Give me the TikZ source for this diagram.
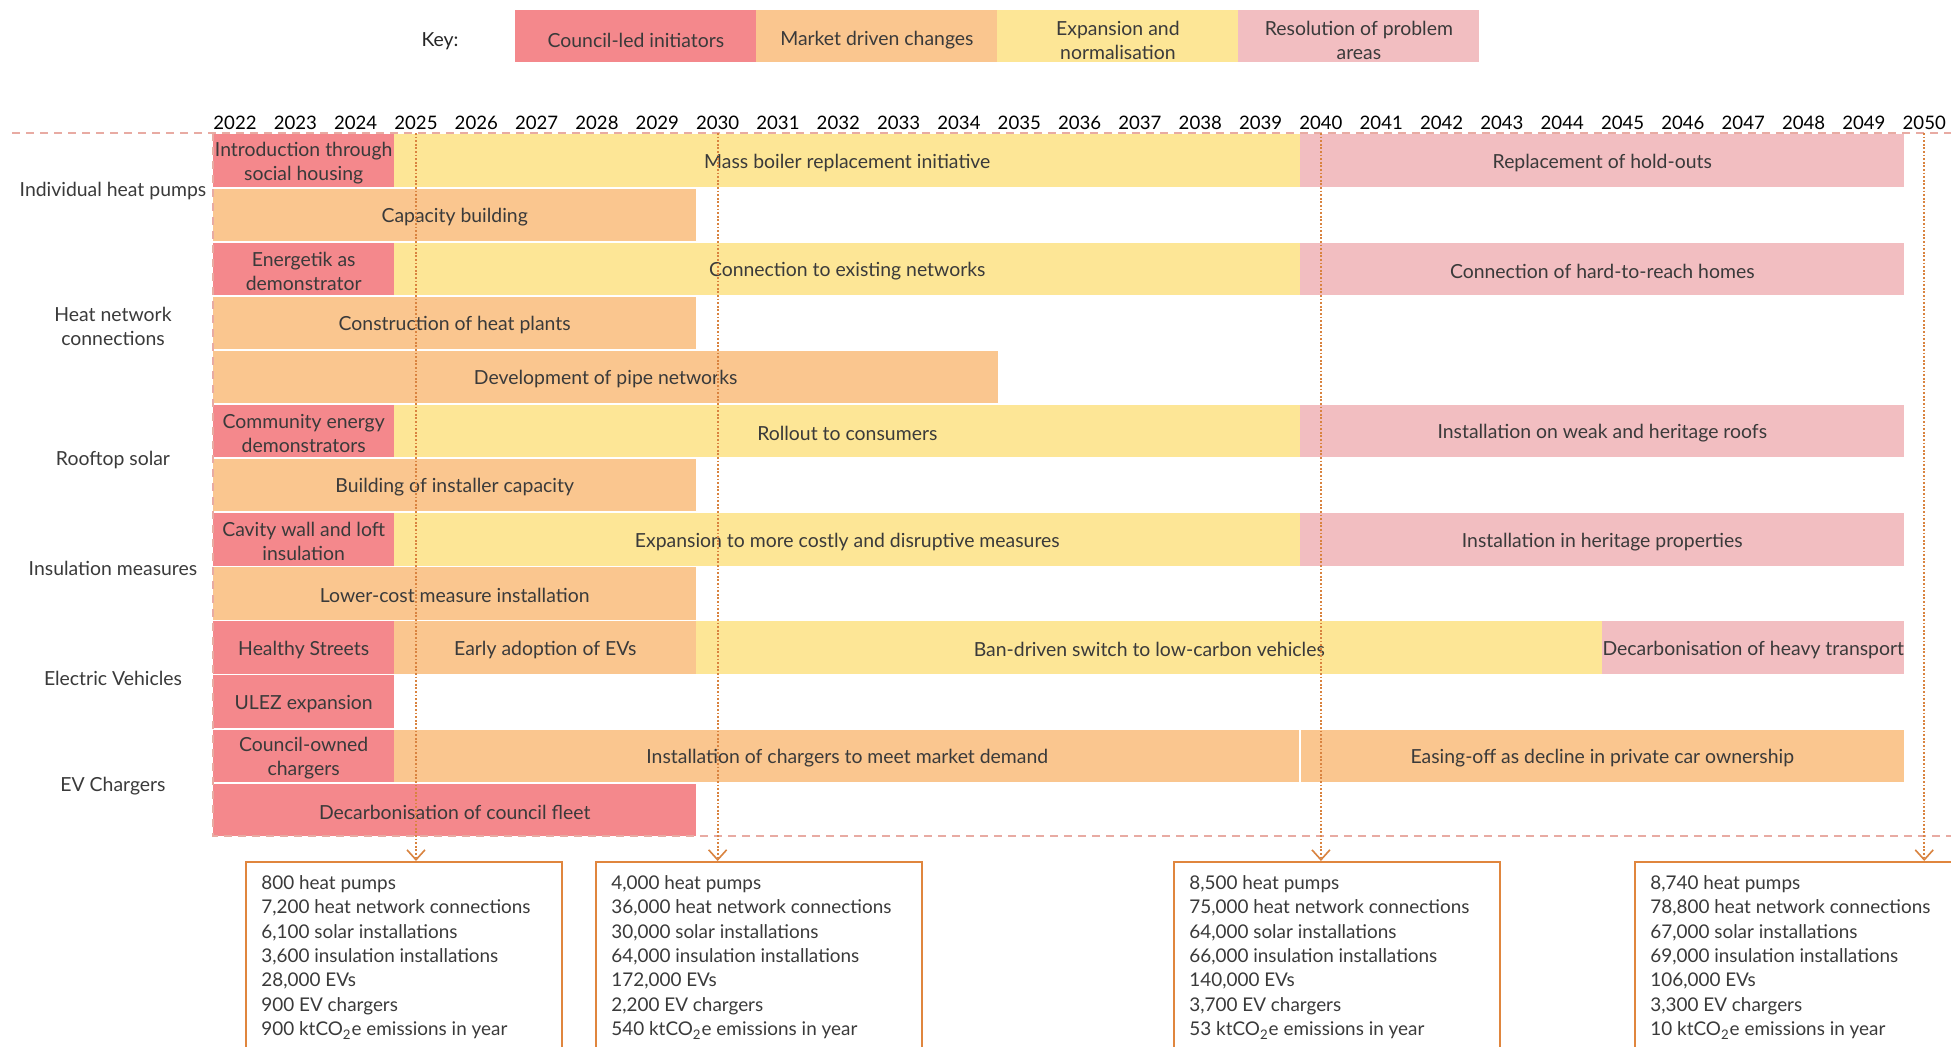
\documentclass[tikz,border=0pt]{standalone}
\usepackage{fontspec}
\setmainfont{Lato}
\usetikzlibrary{arrows.meta}
\definecolor{cred}{HTML}{F4888C}
\definecolor{corange}{HTML}{FAC68F}
\definecolor{cyellow}{HTML}{FDE696}
\definecolor{cpink}{HTML}{F2BEC1}
\definecolor{txtc}{HTML}{3A3A3A}
\definecolor{boxor}{HTML}{E0863E}
\definecolor{framec}{HTML}{E8ABA3}
\definecolor{arrowc}{HTML}{D9833F}
\newcommand\tlbar[6]{%
  \pgfmathsetmacro\tlx{212.7+60.4*#3}%
  \pgfmathsetmacro\tly{134+54.1*(#2-1)}%
  \pgfmathsetmacro\tlw{30.2*(#4-#3)}%
  \node[barbox,fill=#5,minimum width=\tlw pt,anchor=north west] (#1) at (\tlx,\tly) {};%
  \node[bartext] (#1t) at ([yshift=-1.2pt]#1.center) {#6};%
}
\begin{document}
\begin{tikzpicture}[x=0.5pt,y=-0.5pt,
  basefont/.style={font=\fontsize{9.7}{12}\selectfont},
  barbox/.style={inner sep=0pt,minimum height=26.2pt},
  bartext/.style={basefont,inner sep=0pt,align=center,text=txtc},
  keybox/.style={inner sep=0pt,minimum height=26pt,minimum width=120.5pt,anchor=north west},
  keytext/.style={basefont,inner sep=0pt,align=center,text=txtc},
  catlbl/.style={basefont,align=center,text=txtc},
  yearlbl/.style={font=\fontsize{9.3}{12}\selectfont,text=black},
  statbox/.style={draw=boxor,line width=1.2pt,minimum height=110pt,anchor=north west,inner sep=0pt},
  stattext/.style={font=\fontsize{9.45}{12.2}\selectfont,align=left,text=txtc,inner sep=0pt,anchor=north west},
  frameline/.style={draw=framec,line width=1pt,dash pattern=on 4pt off 3pt},
  dotarrow/.style={draw=arrowc,line width=0.9pt,dash pattern=on 0.9pt off 0.9pt,-{Straight Barb[length=5pt,width=9pt,line width=0.8pt]}}
]
\useasboundingbox (0,0) rectangle (1951,1046);
\clip (0,0) rectangle (1951,1046);
\fill[white] (0,0) rectangle (1951,1046);

% key
\node[basefont,text=black!85] (keylbl) at (440,41) {Key:};
\node[keybox,fill=cred] (k1) at (515,10) {};
\node[keybox,fill=corange] (k2) at (756,10) {};
\node[keybox,fill=cyellow] (k3) at (997,10) {};
\node[keybox,fill=cpink] (k4) at (1238,10) {};
\node[keytext] (k1t) at ([yshift=-1.8pt]k1.center) {Council-led initiators};
\node[keytext] (k2t) at ([yshift=-1.8pt]k2.center) {Market driven changes};
\node[keytext] (k3t) at ([yshift=-1.8pt]k3.center) {Expansion and\\normalisation};
\node[keytext] (k4t) at ([yshift=-1.8pt]k4.center) {Resolution of problem\\areas};

% years
\foreach \i in {0,...,28} {
  \pgfmathtruncatemacro\yr{2022+\i}
  \node[yearlbl] (y\yr) at (235+60.33*\i,123) {\yr};
}

% bars
\tlbar{r1a}{1}{0}{3}{cred}{Introduction through\\social housing}
\tlbar{r1b}{1}{3}{18}{cyellow}{Mass boiler replacement initiative}
\tlbar{r1c}{1}{18}{28}{cpink}{Replacement of hold-outs}
\tlbar{r2a}{2}{0}{8}{corange}{Capacity building}
\tlbar{r3a}{3}{0}{3}{cred}{Energetik as\\demonstrator}
\tlbar{r3b}{3}{3}{18}{cyellow}{Connection to existing networks}
\tlbar{r3c}{3}{18}{28}{cpink}{Connection of hard-to-reach homes}
\tlbar{r4a}{4}{0}{8}{corange}{Construction of heat plants}
\tlbar{r5a}{5}{0}{13}{corange}{Development of pipe networks}
\tlbar{r6a}{6}{0}{3}{cred}{Community energy\\demonstrators}
\tlbar{r6b}{6}{3}{18}{cyellow}{Rollout to consumers}
\tlbar{r6c}{6}{18}{28}{cpink}{Installation on weak and heritage roofs}
\tlbar{r7a}{7}{0}{8}{corange}{Building of installer capacity}
\tlbar{r8a}{8}{0}{3}{cred}{Cavity wall and loft\\insulation}
\tlbar{r8b}{8}{3}{18}{cyellow}{Expansion to more costly and disruptive measures}
\tlbar{r8c}{8}{18}{28}{cpink}{Installation in heritage properties}
\tlbar{r9a}{9}{0}{8}{corange}{Lower-cost measure installation}
\tlbar{r10a}{10}{0}{3}{cred}{Healthy Streets}
\tlbar{r10b}{10}{3}{8}{corange}{Early adoption of EVs}
\tlbar{r10c}{10}{8}{23}{cyellow}{Ban-driven switch to low-carbon vehicles}
\tlbar{r10d}{10}{23}{28}{cpink}{Decarbonisation of heavy transport}
\tlbar{r11a}{11}{0}{3}{cred}{ULEZ expansion}
\tlbar{r12a}{12}{0}{3}{cred}{Council-owned\\chargers}
\tlbar{r12b}{12}{3}{18}{corange}{Installation of chargers to meet market demand}
\tlbar{r12c}{12}{18}{28}{corange}{Easing-off as decline in private car ownership}
\tlbar{r13a}{13}{0}{8}{cred}{Decarbonisation of council fleet}
\draw[white,line width=0.8pt] (r12c.north west) -- (r12c.south west);

% frame
\coordinate (ftl) at (12,133);
\coordinate (fl) at (213,133);
\coordinate (fbl) at (213,836);
\coordinate (fbr) at (1951,836);
\coordinate (ftr) at (1951,133);
\draw[frameline] (ftl) -- (ftr);
\draw[frameline] (fl) -- (fbl) -- (fbr);

% categories
\node[catlbl] (c1) at (113,191) {Individual heat pumps};
\node[catlbl] (c2) at (113,326) {Heat network\\connections};
\node[catlbl] (c3) at (113,460) {Rooftop solar};
\node[catlbl] (c4) at (113,568) {Insulation measures};
\node[catlbl] (c5) at (113,678) {Electric Vehicles};
\node[catlbl] (c6) at (113,786) {EV Chargers};

% stat boxes
\node[statbox,minimum width=158pt] (b1) at (245,861) {};
\node[statbox,minimum width=163pt] (b2) at (595,861) {};
\node[statbox,minimum width=163pt] (b3) at (1173,861) {};
\node[statbox,minimum width=163pt] (b4) at (1634,861) {};
\node[stattext] (s1) at ([xshift=8pt,yshift=-7pt]b1.north west) {800 heat pumps\\7,200 heat network connections\\6,100 solar installations\\3,600 insulation installations\\28,000 EVs\\900 EV chargers\\900 ktCO\textsubscript{2}e emissions in year};
\node[stattext] (s2) at ([xshift=8pt,yshift=-7pt]b2.north west) {4,000 heat pumps\\36,000 heat network connections\\30,000 solar installations\\64,000 insulation installations\\172,000 EVs\\2,200 EV chargers\\540 ktCO\textsubscript{2}e emissions in year};
\node[stattext] (s3) at ([xshift=8pt,yshift=-7pt]b3.north west) {8,500 heat pumps\\75,000 heat network connections\\64,000 solar installations\\66,000 insulation installations\\140,000 EVs\\3,700 EV chargers\\53 ktCO\textsubscript{2}e emissions in year};
\node[stattext] (s4) at ([xshift=8pt,yshift=-7pt]b4.north west) {8,740 heat pumps\\78,800 heat network connections\\67,000 solar installations\\69,000 insulation installations\\106,000 EVs\\3,300 EV chargers\\10 ktCO\textsubscript{2}e emissions in year};

% milestone arrows
\coordinate (d1) at (y2025 |- fl);
\coordinate (d2) at (y2030 |- fl);
\coordinate (d3) at (y2040 |- fl);
\coordinate (d4) at (y2050 |- fl);
\draw[dotarrow] (d1) -- (d1 |- b1.north);
\draw[dotarrow] (d2) -- (d2 |- b2.north);
\draw[dotarrow] (d3) -- (d3 |- b3.north);
\draw[dotarrow] (d4) -- (d4 |- b4.north);
\end{tikzpicture}
\end{document}
